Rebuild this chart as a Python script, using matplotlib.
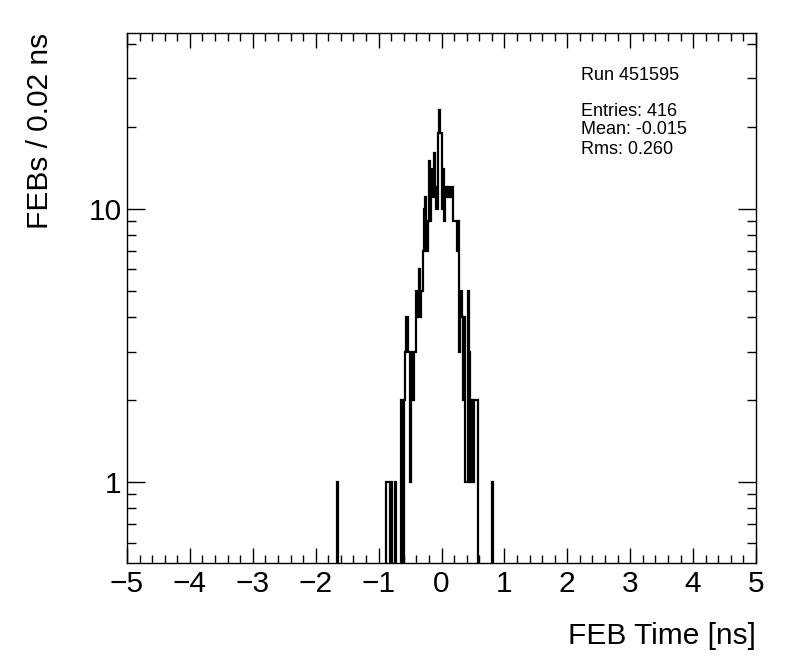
import matplotlib
matplotlib.use("Agg")
import matplotlib.pyplot as plt
import numpy as np
from matplotlib.ticker import FixedLocator, NullFormatter, FixedFormatter

plt.rcParams["font.family"] = ["Liberation Sans", "DejaVu Sans"]

# FEB time histogram, 0.02 ns bins (left bin edge -> count), empty bins omitted
bin_left = [-1.66, -0.88, -0.86, -0.84, -0.80, -0.74,
            -0.64, -0.60, -0.58, -0.56, -0.54, -0.52, -0.50, -0.48, -0.46, -0.44, -0.42,
            -0.40, -0.38, -0.36, -0.34, -0.32, -0.30,
            -0.28, -0.26, -0.24, -0.22, -0.20, -0.18, -0.16, -0.14, -0.12, -0.10,
            -0.08, -0.06, -0.04, -0.02,
            0.00, 0.02, 0.04, 0.06, 0.08, 0.10, 0.12, 0.14, 0.16, 0.18, 0.20,
            0.22, 0.24, 0.26, 0.28, 0.30, 0.32, 0.34, 0.36, 0.38, 0.40,
            0.42, 0.44, 0.46, 0.48, 0.50, 0.52, 0.54, 0.56, 0.80]
counts = [1, 1, 1, 1, 1, 1,
          2, 2, 3, 4, 3, 3, 1, 3, 2, 3, 3,
          5, 4, 6, 4, 5, 7,
          10, 11, 7, 9, 15, 9, 14, 11, 16, 12,
          10, 19, 23, 19,
          10, 14, 9, 12, 11, 12, 12, 11, 12, 9, 9,
          9, 7, 9, 3, 5, 4, 2, 4, 1, 1,
          5, 3, 1, 2, 1, 2, 2, 2, 1]

run_label = "Run 451595"
stats = ["Entries: 416", "Mean: -0.015", "Rms: 0.260"]

# full histogram over [-5, 5]
edges = np.round(np.linspace(-5, 5, 501), 4)
hist = np.zeros(500)
for xl, c in zip(bin_left, counts):
    hist[int(round((xl + 5) / 0.02))] = c
draw = np.where(hist > 0, hist, 1e-3)

fig = plt.figure(figsize=(7.96, 6.72), dpi=100)
ax = fig.add_axes([127 / 796, 109 / 672, 629 / 796, 530 / 672])
ax.stairs(draw, edges, baseline=None, color="black", linewidth=1.6)

ax.set_yscale("log")
ax.set_xlim(-5, 5)
ax.set_ylim(0.505, 44)

ax.xaxis.set_major_locator(FixedLocator(np.arange(-5, 6, 1)))
ax.xaxis.set_minor_locator(FixedLocator(np.arange(-5, 5.01, 0.2)))
ax.set_xticklabels([str(v).replace("-", "\u2212") for v in range(-5, 6)])
ax.yaxis.set_major_locator(FixedLocator([1, 10]))
ax.yaxis.set_major_formatter(FixedFormatter(["1", "10"]))
ax.yaxis.set_minor_locator(FixedLocator([0.6, 0.7, 0.8, 0.9, 2, 3, 4, 5, 6, 7, 8, 9, 20, 30, 40]))
ax.yaxis.set_minor_formatter(NullFormatter())

ax.tick_params(axis="both", which="both", direction="in", top=True, right=True,
               labelsize=21.5, width=1, color="black")
ax.tick_params(axis="x", which="major", length=11, pad=5)
ax.tick_params(axis="x", which="minor", length=5.5)
ax.tick_params(axis="y", which="major", length=13, pad=4)
ax.tick_params(axis="y", which="minor", length=6.5)
for s in ax.spines.values():
    s.set_linewidth(1)

fig.text(756 / 796, 1 - 636 / 672, "FEB Time [ns]", ha="right", va="center", fontsize=21.5)
fig.text(40 / 796, 1 - 33 / 672, "FEBs / 0.02 ns", ha="center", va="top",
         rotation=90, fontsize=21.5)

fig.text(581 / 796, 1 - 76 / 672, run_label, ha="left", va="center", fontsize=13)
for i, s in enumerate(stats):
    fig.text(581 / 796, 1 - (111 + 19 * i) / 672, s, ha="left", va="center", fontsize=13)

fig.savefig("out.png", dpi=100)
